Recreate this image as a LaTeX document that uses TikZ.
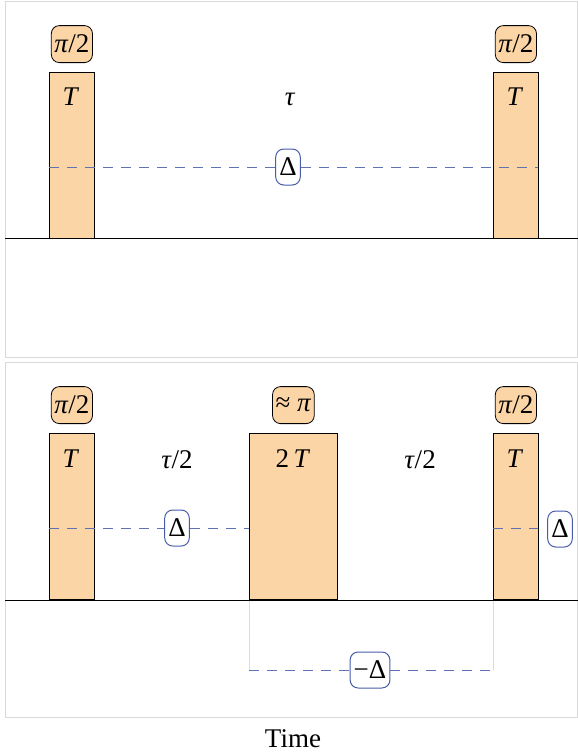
\documentclass[tikz,border=0pt]{standalone}
\usepackage{fontspec}
\setmainfont{Liberation Serif}
\usetikzlibrary{positioning}
\definecolor{peach}{RGB}{252,213,166}
\definecolor{deltablue}{RGB}{72,92,170}
\definecolor{phaseblue}{RGB}{95,112,180}

\begin{document}
\begin{tikzpicture}[x=0.5pt,y=-0.5pt,font=\fontsize{13.5}{15}\selectfont,
    pulse/.style={draw,fill=peach,inner sep=0pt,minimum width=22.5pt,minimum height=83pt,anchor=north west},
    angle/.style={draw,fill=peach,rounded corners=4pt,inner sep=1.5pt,minimum height=18.5pt},
    shiftbox/.style={draw=deltablue,fill=white,rounded corners=4pt,inner sep=1.8pt,minimum height=18pt,line width=0.5pt},
    phase/.style={phaseblue,dash pattern=on 5pt off 4pt}]
    \def\base{238}
    \def\ptop{72}
    \def\level{167}
    \useasboundingbox (0,0) rectangle (578,755);

    % upper panel
    \begin{scope}
        \draw[gray!30] (5,1) rectangle (577.5,357);
        \node[pulse] (p1) at (49,\ptop) {};
        \node[pulse] (p2) at (493,\ptop) {};
        \node[angle,above=4.5pt of p1] (a1) {\textit{π}/2};
        \node[angle,above=4.5pt of p2] (a2) {\textit{π}/2};
        \node (t1) at (71,97) {\textit{T}};
        \node (t2) at (515,97) {\textit{T}};
        \node (tau) at (290,99) {\textit{τ}};
        \coordinate (l1) at (49,\level);
        \coordinate (r1) at (538,\level);
        \node[shiftbox] (d1) at (288,\level) {Δ};
        \draw[phase] (l1) -- (d1) -- (r1);
        \coordinate (b0) at (5,\base);
        \coordinate (b1) at (578,\base);
        \draw (b0) -- (b1);
    \end{scope}

    % lower panel, echo
    \begin{scope}[shift={(0,362)}]
        \draw[gray!30] (5,0) rectangle (577.5,355);
        \node[pulse] (q1) at (49,\ptop-1) {};
        \node[pulse,minimum width=44pt] (q2) at (249,\ptop-1) {};
        \node[pulse] (q3) at (493,\ptop-1) {};
        \node[angle,above=4.5pt of q1] (e1) {\textit{π}/2};
        \node[angle,above=4.5pt of q2] (e2) {≈ \textit{π}};
        \node[angle,above=4.5pt of q3] (e3) {\textit{π}/2};
        \node (s1) at (71,97) {\textit{T}};
        \node (s2) at (293,97) {2\,\textit{T}};
        \node (s3) at (515,97) {\textit{T}};
        \node (half1) at (177,98) {\textit{τ}/2};
        \node (half2) at (420,98) {\textit{τ}/2};
        % first half
        \coordinate (l2) at (49,\level-1);
        \coordinate (r2) at (249,\level-1);
        \node[shiftbox] (d2) at (177,\level-1) {Δ};
        \draw[phase] (l2) -- (d2) -- (r2);
        % after the last pulse
        \coordinate (l4) at (493,\level-1);
        \coordinate (r4) at (538,\level-1);
        \draw[phase] (l4) -- (r4);
        \node[shiftbox] (d4) at (560,\level) {Δ};
        % second half, reversed
        \coordinate (l3) at (249,308);
        \coordinate (r3) at (493,308);
        \draw[peach] (q2.south west) -- (l3);
        \draw[peach] (q3.south west) -- (r3);
        \node[shiftbox] (d3) at (370,308) {−Δ};
        \draw[phase] (l3) -- (d3) -- (r3);
        \coordinate (c0) at (5,\base);
        \coordinate (c1) at (578,\base);
        \draw (c0) -- (c1);
    \end{scope}

    \node (time) at (293,739) {Time};
\end{tikzpicture}
\end{document}
